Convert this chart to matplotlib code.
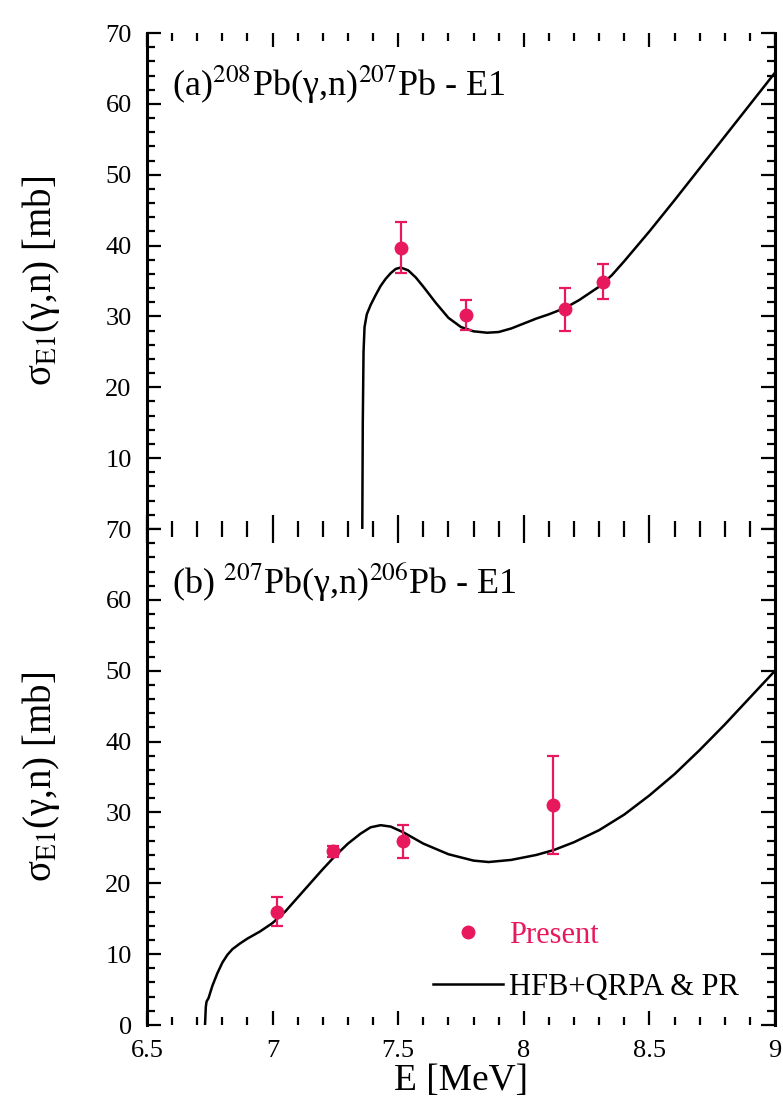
import numpy as np
import matplotlib
matplotlib.use("Agg")
import matplotlib.pyplot as plt
from matplotlib.ticker import MultipleLocator, FixedLocator
from matplotlib.lines import Line2D

plt.rcParams['font.family'] = ['Liberation Serif', 'DejaVu Serif']
plt.rcParams['mathtext.fontset'] = 'stix'

# ---------------- data ----------------
# (a) 208Pb(g,n)207Pb - E1
a_exp_E = [7.51, 7.77, 8.165, 8.317]
a_exp_sig = [39.7, 30.2, 31.0, 34.9]
a_exp_err = [3.6, 2.1, 3.0, 2.45]

a_th_E = [7.357, 7.359, 7.362, 7.366, 7.375, 7.39, 7.41, 7.43, 7.45, 7.47, 7.49, 7.51,
          7.54, 7.57, 7.60, 7.65, 7.70, 7.75, 7.80, 7.854, 7.90, 7.95, 8.00, 8.05,
          8.10, 8.165, 8.22, 8.30, 8.35, 8.40, 8.50, 8.60, 8.70, 8.80, 8.90, 9.00]
a_th_sig = [0.0, 15.0, 25.0, 28.5, 30.3, 31.6, 33.0, 34.3, 35.3, 36.1, 36.7, 36.9,
            36.5, 35.5, 34.2, 31.9, 29.8, 28.5, 27.9, 27.7, 27.8, 28.3, 29.0, 29.7,
            30.3, 31.2, 32.3, 34.2, 35.8, 37.8, 42.0, 46.4, 50.9, 55.4, 59.9, 64.4]

# (b) 207Pb(g,n)206Pb - E1
b_exp_E = [7.018, 7.241, 7.52, 8.118]
b_exp_sig = [16.0, 24.5, 26.0, 31.1]
b_exp_err_lo = [2.0, 0.8, 2.5, 6.9]
b_exp_err_hi = [2.0, 0.8, 2.2, 6.9]

b_th_E = [6.731, 6.734, 6.737, 6.745, 6.76, 6.78, 6.80, 6.82, 6.84, 6.87, 6.90, 6.95,
          7.00, 7.05, 7.10, 7.15, 7.20, 7.25, 7.30, 7.35, 7.39, 7.43, 7.47, 7.52,
          7.60, 7.70, 7.80, 7.86, 7.95, 8.05, 8.12, 8.20, 8.30, 8.40, 8.50, 8.60,
          8.70, 8.80, 8.90, 9.00]
b_th_sig = [0.0, 2.5, 3.3, 3.8, 5.5, 7.3, 8.8, 9.9, 10.7, 11.5, 12.2, 13.2,
            14.4, 16.0, 18.0, 20.0, 22.0, 23.9, 25.6, 27.0, 27.9, 28.2, 28.0, 27.2,
            25.6, 24.1, 23.2, 23.0, 23.3, 24.0, 24.7, 25.8, 27.5, 29.7, 32.4, 35.4,
            38.8, 42.4, 46.2, 50.0]

x_ticks = [6.5, 7.0, 7.5, 8.0, 8.5, 9.0]
x_ticklabels = ['6.5', '7', '7.5', '8', '8.5', '9']
y_ticks = [0, 10, 20, 30, 40, 50, 60, 70]

red = '#E8185C'

fig = plt.figure(figsize=(7.83, 11.05), dpi=100)
gs = fig.add_gridspec(2, 1, left=147/783, right=775/783, top=1-33/1105,
                      bottom=1-1025/1105, hspace=0)
ax1 = fig.add_subplot(gs[0])
ax2 = fig.add_subplot(gs[1], sharex=ax1)

for ax in (ax1, ax2):
    ax.set_xlim(6.5, 9.0)
    ax.set_ylim(0, 70)
    ax.xaxis.set_major_locator(FixedLocator(x_ticks))
    ax.xaxis.set_minor_locator(MultipleLocator(0.1))
    ax.yaxis.set_major_locator(FixedLocator(y_ticks))
    ax.yaxis.set_minor_locator(MultipleLocator(2))
    ax.tick_params(which='both', direction='in', top=True, bottom=True,
                   left=True, right=True, width=1.6, labelsize=19, pad=5)
    ax.tick_params(axis='y', which='major', pad=11)
    ax.tick_params(which='major', length=10)
    ax.tick_params(which='minor', length=6)
    ax.spines['top'].set_visible(False)
    ax.spines['bottom'].set_visible(False)
    ax.spines['left'].set_linewidth(2.2)
    ax.spines['right'].set_linewidth(2.2)
    ax.set_ylabel(r'σ$_{\mathrm{E1}}$(γ,n) [mb]', fontsize=28)
    ax.yaxis.set_label_coords(-0.135, 0.5)

ax1.set_yticks(y_ticks)
ax1.set_yticklabels([''] + [str(v) for v in y_ticks[1:]])
ax2.set_yticks(y_ticks)
ax2.set_yticklabels([str(v) for v in y_ticks])
plt.setp(ax1.get_xticklabels(), visible=False)
ax2.set_xticks(x_ticks)
ax2.set_xticklabels(x_ticklabels)
ax2.tick_params(axis='x', which='major', pad=11)
ax2.set_xlabel('E [MeV]', fontsize=27, labelpad=1)

# panel (a)
ax1.plot(a_th_E, a_th_sig, color='black', lw=1.8, zorder=2)
ax1.errorbar(a_exp_E, a_exp_sig, yerr=a_exp_err, fmt='o', color=red, ms=9,
             elinewidth=1.6, capsize=4, capthick=1.6, zorder=3)
ax1.text(0.04, 0.895, r'(a)$^{208}$Pb(γ,n)$^{207}$Pb - E1', transform=ax1.transAxes,
         fontsize=26, va='center', ha='left')

# panel (b)
ax2.plot(b_th_E, b_th_sig, color='black', lw=1.8, zorder=2)
ax2.errorbar(b_exp_E, b_exp_sig, yerr=[b_exp_err_lo, b_exp_err_hi], fmt='o', color=red,
             ms=9, elinewidth=1.6, capsize=4, capthick=1.6, zorder=3)
ax2.text(0.04, 0.894, r'(b) $^{207}$Pb(γ,n)$^{206}$Pb - E1', transform=ax2.transAxes,
         fontsize=26, va='center', ha='left')

h_pres = Line2D([], [], marker='o', ls='none', color=red, ms=9)
h_th = Line2D([], [], color='black', lw=1.8)
leg = ax2.legend([h_pres, h_th], ['Present', 'HFB+QRPA & PR'], loc='upper left',
                 bbox_to_anchor=(0.455, 0.21), frameon=False, fontsize=22,
                 handlelength=2.3, handletextpad=0.2, borderpad=0, labelspacing=0.75,
                 borderaxespad=0)
leg.get_texts()[0].set_color(red)

fig.savefig('out.png', dpi=100)
